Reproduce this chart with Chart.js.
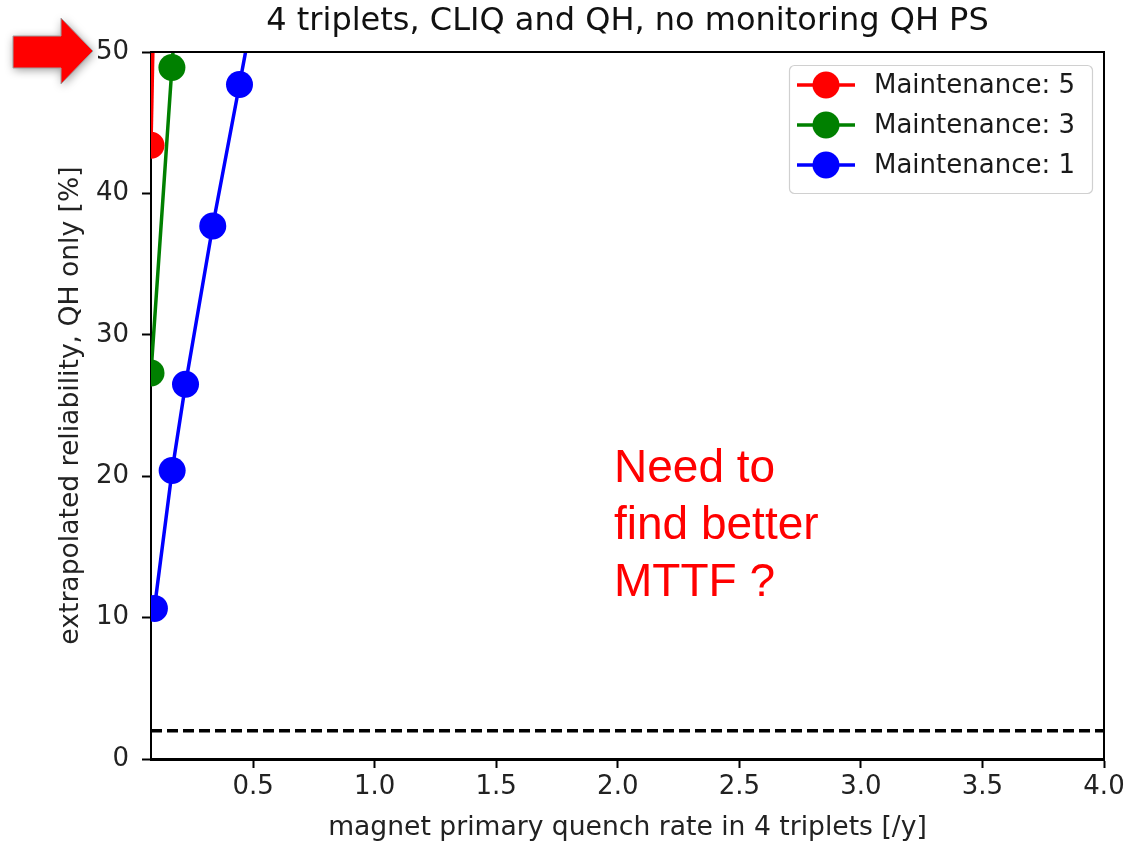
<!DOCTYPE html>
<html>
<head>
<meta charset="utf-8">
<title>4 triplets, CLIQ and QH, no monitoring QH PS</title>
<script src="https://cdn.jsdelivr.net/npm/chart.js@4.4.1/dist/chart.umd.min.js"></script>
<style>
  html, body { margin: 0; padding: 0; background: #ffffff; }
  #wrap { width: 1126px; height: 842px; position: relative; }
</style>
</head>
<body>
<div id="wrap"><canvas id="chart"></canvas></div>
<script>
// Primary quench rate [/y] and extrapolated reliability [%] per maintenance setting
const rateMaint5 = [0.08, 0.166];
const relMaint5 = [43.4, 119];
const rateMaint3 = [0.08, 0.166, 0.222];
const relMaint3 = [27.3, 48.9, 63];
const rateMaint1 = [0.094, 0.167, 0.222, 0.334, 0.444, 0.556];
const relMaint1 = [10.65, 20.4, 26.5, 37.7, 47.7, 58];

// Target level (dashed horizontal)
const targetRate = [0.08, 4.0];
const targetRel = [2.0, 2.0];

const seriesLabels = ['Maintenance: 5', 'Maintenance: 3', 'Maintenance: 1'];
const seriesColors = ['#ff0000', '#008000', '#0000ff'];

const xTickValues = [0.5, 1.0, 1.5, 2.0, 2.5, 3.0, 3.5, 4.0];
const yTickValues = [0, 10, 20, 30, 40, 50];

const titleText = '4 triplets, CLIQ and QH, no monitoring QH PS';
const xTitle = 'magnet primary quench rate in 4 triplets [/y]';
const yTitle = 'extrapolated reliability, QH only [%]';
const noteLines = ['Need to', 'find better', 'MTTF ?'];

const FONT = '"DejaVu Sans", sans-serif';

function toPoints(xs, ys) {
  return xs.map((x, i) => ({ x: x, y: ys[i] }));
}

function seriesDataset(label, color, xs, ys) {
  return {
    label: label,
    data: toPoints(xs, ys),
    borderColor: color,
    backgroundColor: color,
    borderWidth: 3.5,
    pointRadius: 13.5,
    pointHoverRadius: 13.5,
    pointBorderWidth: 0,
    pointBackgroundColor: color,
    tension: 0,
    fill: false
  };
}

const datasets = [
  seriesDataset(seriesLabels[0], seriesColors[0], rateMaint5, relMaint5),
  seriesDataset(seriesLabels[1], seriesColors[1], rateMaint3, relMaint3),
  seriesDataset(seriesLabels[2], seriesColors[2], rateMaint1, relMaint1),
  {
    label: 'target',
    data: toPoints(targetRate, targetRel),
    borderColor: '#000000',
    borderWidth: 3.5,
    borderDash: [11, 5],
    pointRadius: 0,
    pointHoverRadius: 0,
    fill: false,
    isTarget: true
  }
];

function arrowPath(ctx) {
  ctx.beginPath();
  ctx.moveTo(13, 36);
  ctx.lineTo(61, 36);
  ctx.lineTo(61, 18);
  ctx.lineTo(93, 51);
  ctx.lineTo(61, 84);
  ctx.lineTo(61, 68);
  ctx.lineTo(13, 68);
  ctx.closePath();
}

// Frame, titles, legend and the annotation drawn on the canvas
const decorations = {
  id: 'decorations',
  afterDatasetsDraw(chart) {
    const ctx = chart.ctx;
    const a = chart.chartArea;
    ctx.save();
    // top and right spines
    ctx.strokeStyle = '#000000';
    ctx.lineWidth = 2;
    ctx.beginPath();
    ctx.moveTo(a.left, a.top);
    ctx.lineTo(a.right, a.top);
    ctx.lineTo(a.right, a.bottom);
    ctx.stroke();

    // legend box
    const lx = 789, ly = 65, lw = 303, lh = 128;
    ctx.fillStyle = 'rgba(255,255,255,0.8)';
    ctx.strokeStyle = '#d0d0d0';
    ctx.lineWidth = 1.2;
    ctx.beginPath();
    ctx.roundRect(lx + 0.5, ly + 0.5, lw, lh, 5);
    ctx.fill();
    ctx.stroke();
    const rows = chart.data.datasets.filter(d => !d.isTarget);
    rows.forEach((d, i) => {
      const cy = 85 + i * 40;
      ctx.strokeStyle = d.borderColor;
      ctx.lineWidth = 3.5;
      ctx.beginPath();
      ctx.moveTo(797, cy);
      ctx.lineTo(855, cy);
      ctx.stroke();
      ctx.fillStyle = d.borderColor;
      ctx.beginPath();
      ctx.arc(826, cy, 13.5, 0, Math.PI * 2);
      ctx.fill();
      ctx.fillStyle = '#1a1a1a';
      ctx.font = '26px ' + FONT;
      ctx.textAlign = 'left';
      ctx.textBaseline = 'middle';
      ctx.fillText(d.label, 874, cy + 1);
    });
    ctx.restore();
  },
  afterDraw(chart) {
    const ctx = chart.ctx;
    const a = chart.chartArea;
    ctx.save();
    // chart title
    ctx.fillStyle = '#111111';
    ctx.font = '32px ' + FONT;
    ctx.textAlign = 'center';
    ctx.textBaseline = 'middle';
    ctx.fillText(titleText, (a.left + a.right) / 2, 22);

    // axis titles
    ctx.font = '26.6px ' + FONT;
    ctx.fillStyle = '#222222';
    ctx.fillText(xTitle, (a.left + a.right) / 2, 828);
    ctx.save();
    ctx.translate(71, (a.top + a.bottom) / 2);
    ctx.rotate(-Math.PI / 2);
    ctx.fillText(yTitle, 0, 0);
    ctx.restore();

    // annotation
    ctx.fillStyle = '#ff0000';
    ctx.font = '46px "Liberation Sans", Arial, sans-serif';
    ctx.textAlign = 'left';
    ctx.textBaseline = 'alphabetic';
    const baselines = [482, 539, 596];
    noteLines.forEach((t, i) => ctx.fillText(t, 614, baselines[i]));

    // red arrow pointing at the 50 % tick
    ctx.save();
    ctx.shadowColor = 'rgba(0,0,0,0.4)';
    ctx.shadowBlur = 10;
    ctx.shadowOffsetX = 1;
    ctx.shadowOffsetY = 2;
    ctx.fillStyle = '#ff0000';
    arrowPath(ctx);
    ctx.fill();
    ctx.restore();
    ctx.strokeStyle = '#a0a0a0';
    ctx.lineWidth = 1;
    arrowPath(ctx);
    ctx.stroke();
    ctx.restore();
  }
};

new Chart(document.getElementById('chart'), {
  type: 'line',
  data: { datasets: datasets },
  options: {
    responsive: true,
    maintainAspectRatio: false,
    animation: false,
    events: [],
    layout: { padding: { top: 52, right: 22, left: 0, bottom: 0 } },
    plugins: {
      legend: { display: false },
      title: { display: false },
      tooltip: { enabled: false }
    },
    scales: {
      x: {
        type: 'linear',
        min: 0.08,
        max: 4.0,
        afterBuildTicks: (scale) => { scale.ticks = xTickValues.map(v => ({ value: v })); },
        afterFit: (scale) => {
          scale.height = 83;
          scale.paddingLeft = 0;
          scale.paddingRight = 0;
        },
        ticks: {
          color: '#222222',
          font: { family: FONT, size: 26 },
          padding: 4,
          maxRotation: 0,
          autoSkip: false,
          callback: (v) => Number(v).toFixed(1)
        },
        grid: {
          drawOnChartArea: false,
          drawTicks: true,
          tickLength: 9,
          tickWidth: 2,
          tickColor: '#000000'
        },
        border: { display: true, color: '#000000', width: 3 }
      },
      y: {
        type: 'linear',
        min: 0,
        max: 50,
        afterBuildTicks: (scale) => { scale.ticks = yTickValues.map(v => ({ value: v })); },
        afterFit: (scale) => {
          scale.width = 151;
          scale.paddingTop = 0;
          scale.paddingBottom = 0;
        },
        ticks: {
          color: '#222222',
          font: { family: FONT, size: 26 },
          padding: 13,
          autoSkip: false,
          callback: (v) => String(v)
        },
        grid: {
          drawOnChartArea: false,
          drawTicks: true,
          tickLength: 9,
          tickWidth: 2,
          tickColor: '#000000'
        },
        border: { display: true, color: '#000000', width: 2 }
      }
    }
  },
  plugins: [decorations]
});
</script>
</body>
</html>
